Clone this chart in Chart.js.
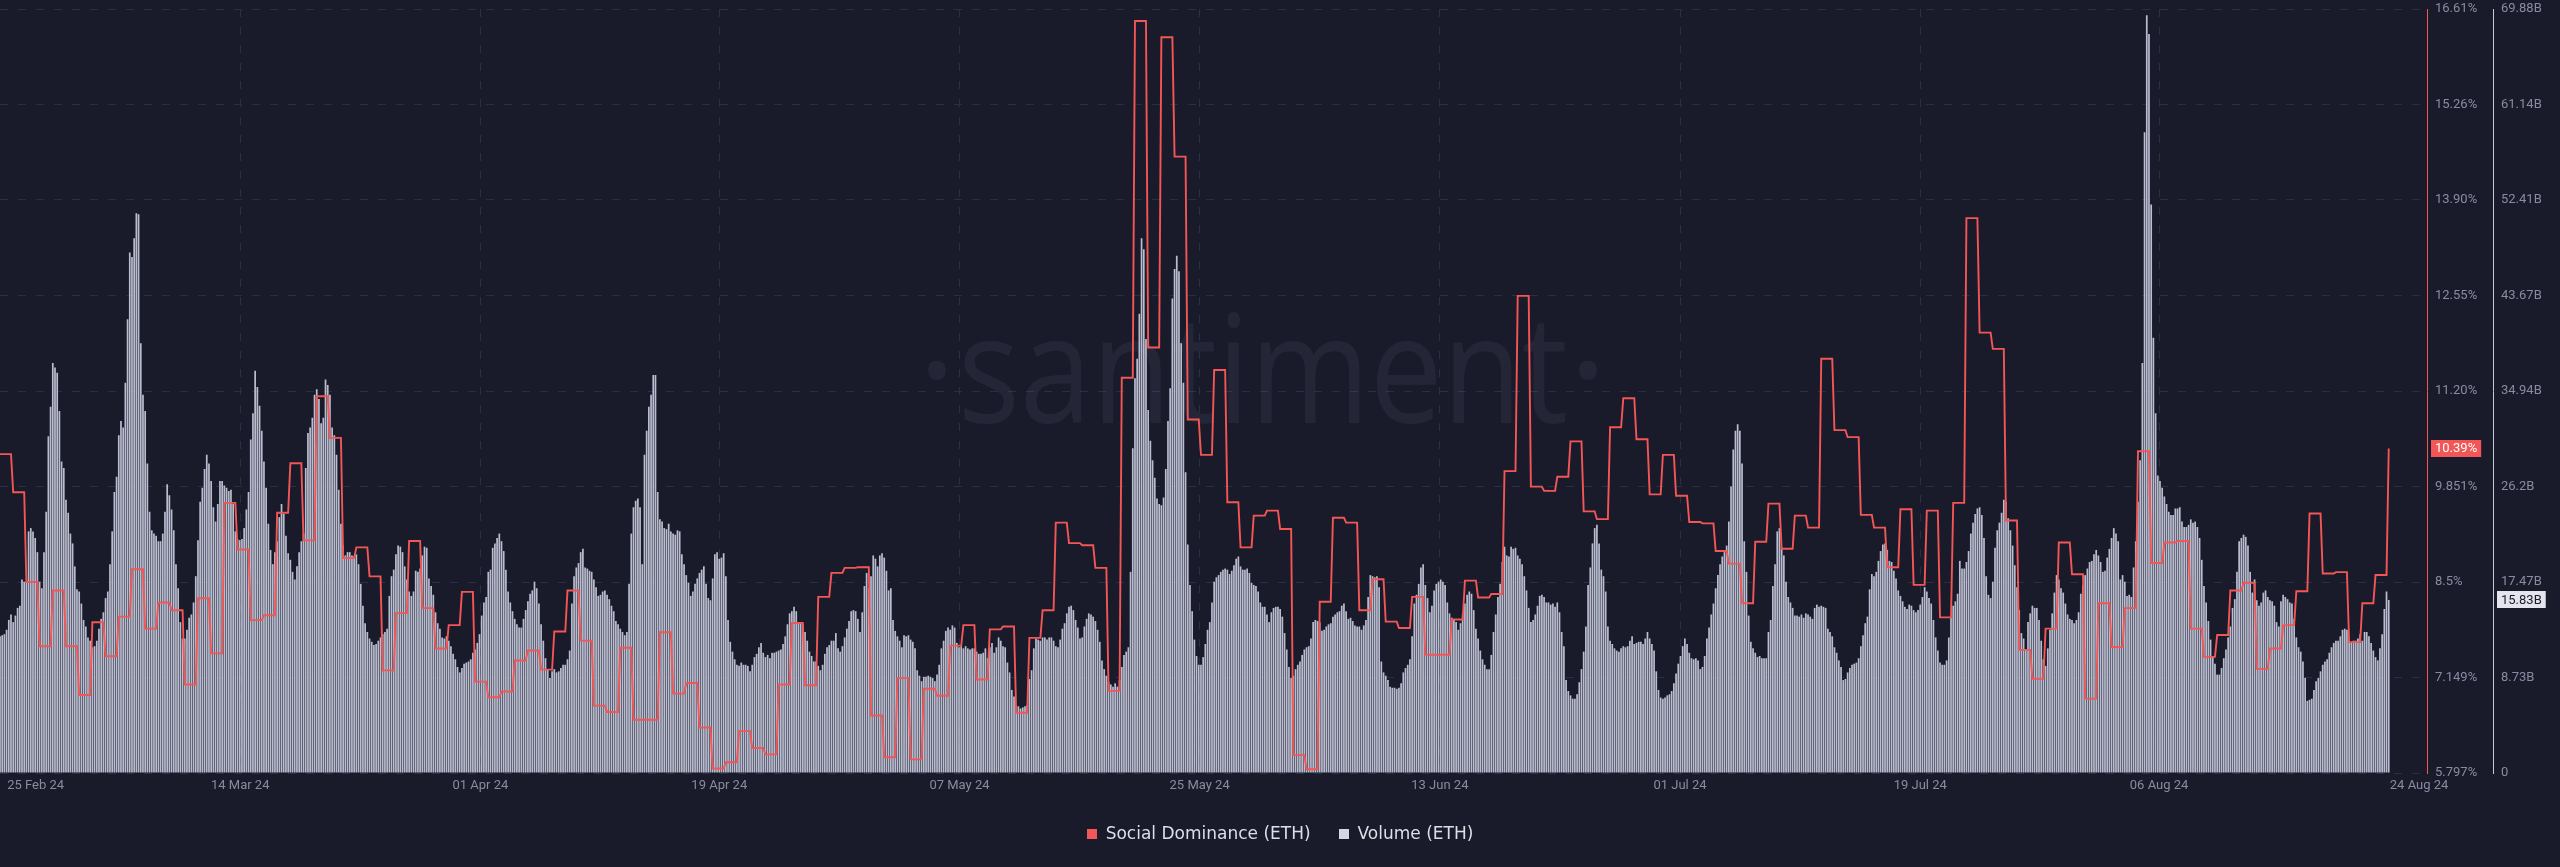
<!DOCTYPE html>
<html>
<head>
<meta charset="utf-8">
<script src="https://cdn.jsdelivr.net/npm/chart.js@4.4.1/dist/chart.umd.min.js"></script>
<style>
  html, body { margin: 0; padding: 0; background: #1a1b2a; }
  canvas { display: block; }
</style>
</head>
<body>
<canvas id="c" width="2560" height="867"></canvas>
<script>
// ---------------- DATA ----------------
const SERIES_NAMES = ['Social Dominance (ETH)', 'Volume (ETH)'];
const START_DATE = '2024-02-25';   // first day of data
const BARS_PER_DAY = 6;            // 4-hour samples

const X_TICK_LABELS = ['25 Feb 24', '14 Mar 24', '01 Apr 24', '19 Apr 24', '07 May 24', '25 May 24',
                       '13 Jun 24', '01 Jul 24', '19 Jul 24', '06 Aug 24', '24 Aug 24'];
const X_TICK_DAYS = [2.7, 18.2, 36.4, 54.5, 72.7, 90.9, 109.1, 127.3, 145.5, 163.6, 183.3];

const SD_TICK_VALUES = [5.797, 7.149, 8.5, 9.852, 11.203, 12.555, 13.907, 15.258, 16.61];
const SD_TICK_LABELS = ['5.797%', '7.149%', '8.5%', '9.851%', '11.20%', '12.55%', '13.90%', '15.26%', '16.61%'];
const VOL_TICK_VALUES = [0, 8.735, 17.47, 26.205, 34.94, 43.675, 52.41, 61.145, 69.88];
const VOL_TICK_LABELS = ['0', '8.73B', '17.47B', '26.2B', '34.94B', '43.67B', '52.41B', '61.14B', '69.88B'];

// Social dominance (%), one value per day
const SOCIAL_DOMINANCE = [
  10.31, 9.77, 8.50, 7.59, 8.38, 7.59, 6.90, 7.93, 7.45, 8.01,
  8.68, 7.84, 8.21, 8.10, 7.05, 8.27, 7.49, 9.62, 8.96, 7.96,
  8.03, 9.48, 10.18, 9.09, 11.13, 10.54, 8.84, 8.99, 8.58, 7.25,
  8.06, 9.08, 8.13, 7.56, 7.89, 8.36, 7.09, 6.87, 6.95, 7.39,
  7.53, 7.26, 7.80, 8.38, 7.67, 6.75, 6.66, 7.57, 6.55, 6.55,
  7.79, 6.92, 7.07, 6.44, 5.86, 5.95, 6.39, 6.15, 6.06, 7.05,
  7.92, 7.04, 8.29, 8.63, 8.70, 8.71, 6.61, 6.02, 7.14, 5.99,
  6.99, 6.89, 7.60, 7.89, 7.12, 7.83, 7.87, 6.65, 7.71, 8.10,
  9.34, 9.05, 9.02, 8.70, 6.96, 11.39, 16.44, 11.82, 16.21, 14.52,
  10.80, 10.30, 11.50, 9.63, 8.99, 9.44, 9.51, 9.25, 6.05, 5.85,
  8.22, 9.41, 9.34, 8.10, 8.54, 7.94, 7.85, 8.29, 7.47, 7.47,
  7.97, 8.52, 8.28, 8.33, 10.07, 12.55, 9.85, 9.79, 9.99, 10.49,
  9.50, 9.39, 10.69, 11.10, 10.52, 9.74, 10.30, 9.72, 9.35, 9.33,
  8.94, 8.76, 8.20, 9.07, 9.61, 8.97, 9.44, 9.27, 11.66, 10.65,
  10.55, 9.45, 9.27, 8.71, 9.53, 8.46, 9.51, 8.00, 9.62, 13.65,
  12.03, 11.80, 9.37, 7.54, 7.13, 7.84, 9.06, 8.61, 6.85, 8.20,
  7.58, 8.13, 10.35, 8.77, 9.06, 9.08, 7.84, 7.44, 7.75, 8.38,
  8.49, 7.27, 7.56, 7.89, 8.37, 9.47, 8.62, 8.64, 7.65, 8.20,
  8.60, 10.39
];

// Volume (billions), one value per 4 hours
const VOLUME = [
  12.5,12.6,12.7,13.1,14.0,14.5,13.8,14.4,15.1,15.3,
  17.7,17.5,17.5,22.1,22.4,22.1,21.5,20.2,17.5,16.9,
  20.2,23.9,30.8,33.5,37.5,37.1,36.6,33.1,28.5,27.9,
  25.0,23.8,21.9,21.0,18.9,16.8,16.6,15.5,14.0,13.4,
  12.4,12.1,11.5,11.6,12.1,13.2,14.1,14.7,16.0,16.6,
  19.1,22.1,25.7,27.1,30.9,32.2,31.6,35.7,41.5,47.6,
  47.2,48.9,51.2,51.1,39.3,34.6,33.1,28.3,23.9,22.2,
  21.9,21.7,21.2,21.2,21.9,23.9,26.4,25.4,24.1,22.2,
  19.1,16.9,13.8,12.3,12.3,13.1,14.2,14.5,15.6,18.0,
  21.3,24.8,26.1,27.8,29.1,28.3,26.7,24.3,23.0,24.6,
  26.7,26.7,26.3,26.1,25.8,25.9,24.6,22.1,21.4,21.3,
  21.4,22.4,24.1,25.7,30.5,32.9,36.8,35.3,33.6,31.3,
  28.5,26.1,22.8,20.4,19.1,20.2,21.2,23.4,24.6,23.7,
  21.7,20.1,19.5,18.4,17.7,18.9,20.2,21.2,21.9,27.9,
  31.1,31.6,32.5,34.6,35.1,34.2,32.0,32.5,36.0,35.5,
  34.6,31.6,30.9,29.1,25.9,22.8,20.8,19.9,20.2,20.2,
  19.9,19.8,20.0,19.1,17.3,15.3,13.7,12.9,12.3,12.0,
  11.7,11.8,12.1,12.4,12.7,12.9,13.2,16.2,18.0,18.6,
  20.0,20.8,20.7,20.2,18.9,17.7,16.6,16.2,16.6,18.5,
  18.4,18.7,19.9,20.7,20.6,17.8,17.1,16.3,14.7,13.7,
  13.2,12.4,12.3,12.5,12.1,11.6,10.9,10.4,9.7,9.2,
  9.6,10.0,10.1,10.2,10.4,11.0,11.3,11.9,12.7,14.4,
  15.6,16.1,18.4,18.6,20.6,21.0,21.5,21.9,21.2,20.3,
  18.6,16.6,15.6,14.8,14.1,13.6,13.3,13.3,14.1,14.9,
  15.7,16.4,16.7,17.5,16.9,15.5,13.6,12.1,10.5,9.5,
  8.7,9.3,9.5,9.2,9.3,9.6,9.9,9.9,10.4,11.2,
  15.5,18.0,18.8,19.2,20.2,20.5,18.8,18.7,18.5,18.4,
  17.7,17.0,16.2,16.3,16.6,16.7,16.3,15.9,15.3,14.8,
  13.9,13.6,13.2,12.9,12.6,12.9,17.3,21.9,24.3,24.9,
  25.1,24.3,19.1,29.1,31.3,33.5,34.6,36.4,36.4,25.7,
  23.2,23.0,22.4,22.3,22.8,22.1,21.9,21.8,22.2,22.1,
  20.0,19.1,18.1,17.4,16.2,16.6,17.3,17.8,18.3,18.6,
  18.9,17.3,16.0,15.8,17.8,20.0,20.2,19.6,19.7,20.1,
  18.0,14.0,12.0,11.1,10.4,9.9,9.8,10.1,9.9,9.9,
  9.8,9.3,9.9,10.6,10.9,11.5,11.9,11.0,10.6,10.8,
  10.5,11.0,11.0,11.1,11.2,11.3,11.8,12.5,13.6,14.6,
  14.8,15.2,14.8,13.8,13.7,13.6,12.9,12.1,11.1,10.7,
  10.2,10.2,9.8,9.4,9.9,10.9,11.5,11.7,12.1,12.1,
  12.8,11.4,11.1,11.6,12.4,13.2,13.9,14.8,14.9,14.8,
  14.1,12.9,14.7,17.1,18.3,16.9,18.0,19.9,19.6,18.9,
  19.9,20.1,19.7,18.5,16.7,16.9,14.0,13.0,12.5,12.1,
  11.5,12.6,12.5,12.6,12.2,12.0,11.4,9.4,8.9,8.4,
  8.8,8.8,8.9,8.8,8.7,8.4,9.0,9.9,11.4,12.1,
  13.0,13.3,13.1,13.5,13.3,11.9,11.5,11.6,11.4,11.6,
  11.4,11.3,11.4,11.4,11.1,10.9,10.9,11.0,11.4,10.5,
  11.5,11.9,11.0,11.5,12.4,12.1,11.6,11.5,10.1,9.2,
  7.6,7.0,6.1,6.1,5.9,6.0,6.1,6.2,8.6,9.4,
  11.4,12.3,12.2,12.1,12.4,12.4,12.2,12.4,12.4,12.1,
  11.6,11.5,12.2,13.2,13.7,14.6,15.2,15.3,14.9,14.0,
  13.3,12.3,12.4,13.4,14.1,14.6,14.5,14.3,13.9,13.1,
  12.0,10.3,9.5,8.9,8.3,8.1,7.9,8.2,7.9,8.5,
  9.7,10.8,11.1,11.5,18.4,29.7,36.1,37.9,42.0,48.9,
  47.9,39.7,33.2,30.4,28.6,27.0,25.1,24.6,24.5,25.2,
  27.8,32.2,35.2,43.4,46.1,47.3,45.9,39.3,35.7,27.5,
  20.9,17.2,14.8,12.2,10.7,9.9,9.9,10.6,11.8,13.1,
  13.8,15.6,17.5,17.9,18.1,18.4,18.6,18.7,18.6,18.2,
  18.5,19.0,19.6,19.8,18.9,18.6,18.6,18.7,18.3,17.4,
  17.2,17.1,16.6,15.6,15.2,15.2,14.5,13.8,14.7,15.1,
  15.2,15.2,15.0,14.3,12.8,11.3,9.7,8.7,8.9,9.5,
  9.9,10.2,10.8,11.3,11.5,11.6,12.3,13.8,14.0,13.9,
  13.8,13.0,13.1,13.4,13.6,13.7,14.3,14.5,14.7,14.8,
  15.3,15.5,14.8,14.1,14.2,13.9,13.5,13.4,13.4,13.1,
  13.5,14.0,16.1,18.1,18.0,17.9,18.0,17.0,10.2,9.2,
  8.9,8.5,7.9,7.8,7.8,7.7,7.8,8.2,9.2,9.6,
  9.9,10.4,12.5,15.5,16.3,17.3,18.8,19.1,17.2,16.0,
  14.7,15.3,16.7,17.3,17.5,17.7,17.5,17.2,15.6,14.6,
  14.2,14.0,13.8,13.1,13.7,14.5,15.5,16.3,16.6,16.4,
  14.9,13.2,12.3,11.2,10.4,9.9,9.5,9.5,10.8,12.9,
  14.5,16.1,17.3,19.3,20.7,19.9,19.8,20.7,20.5,20.6,
  19.9,19.6,19.1,18.0,16.7,15.1,13.8,14.0,14.5,15.3,
  16.2,16.3,16.1,15.6,15.6,15.4,15.5,15.2,15.6,14.7,
  12.9,11.6,8.5,7.5,7.1,6.8,6.8,7.2,8.3,9.5,
  11.1,13.4,17.2,18.8,21.0,22.4,22.7,21.0,18.6,18.0,
  16.6,13.4,12.1,11.8,11.4,11.2,11.1,11.4,11.6,11.5,
  11.6,12.1,12.5,11.8,11.9,12.0,12.0,11.8,12.3,12.9,
  12.3,11.8,11.2,9.3,7.6,6.9,6.8,6.9,7.1,7.2,
  7.5,8.2,9.1,10.0,10.7,11.6,12.3,11.8,11.0,10.5,
  10.4,10.5,10.3,9.5,9.7,10.7,12.3,13.3,14.5,15.5,
  16.9,18.1,19.1,19.8,20.2,20.8,23.0,26.2,29.6,31.3,
  31.9,31.3,28.3,21.2,18.4,14.4,12.0,11.4,11.0,10.6,
  10.7,10.5,10.5,10.5,12.9,14.0,17.1,19.1,22.1,22.4,
  20.6,19.9,17.5,16.1,15.6,15.1,14.4,14.4,14.3,14.5,
  14.2,14.6,14.5,14.3,14.1,15.1,15.4,15.2,15.3,15.2,
  15.1,13.2,12.9,12.5,11.5,11.0,10.3,9.7,8.5,8.6,
  9.2,9.6,9.9,10.0,10.1,10.5,11.6,12.6,13.7,14.3,
  16.8,18.2,18.0,18.4,19.4,20.3,20.9,21.0,20.4,19.4,
  19.3,18.5,17.8,16.7,16.2,15.7,15.2,15.0,15.4,15.3,
  14.9,14.7,14.9,15.4,16.1,17.0,16.6,16.0,15.5,14.0,
  12.4,11.2,10.1,9.9,9.9,10.3,12.4,14.2,15.3,15.7,
  16.4,19.4,18.7,18.7,19.3,20.3,21.9,22.9,23.7,24.2,
  24.3,23.6,21.5,18.0,16.3,16.0,17.5,20.6,22.2,22.9,
  23.8,25.0,24.8,23.3,22.2,20.8,19.0,17.0,14.9,12.8,
  12.3,11.3,13.8,14.6,15.3,15.1,15.1,14.0,12.1,10.4,
  9.8,11.4,13.1,14.6,16.5,18.1,17.7,16.9,16.5,15.5,
  14.5,14.1,14.0,13.7,14.0,14.7,16.4,17.2,18.1,18.7,
  19.3,19.4,20.0,20.4,19.9,19.3,18.4,18.5,19.7,20.5,
  21.5,22.4,21.9,21.2,17.7,18.1,17.5,16.2,16.3,16.1,
  18.8,21.2,24.8,28.6,37.5,58.6,69.3,67.6,52.0,39.8,
  32.9,27.2,26.7,26.1,25.3,24.6,23.9,23.6,23.6,24.2,
  24.2,24.3,23.0,22.5,22.5,22.7,23.2,22.9,23.0,22.5,
  21.5,19.5,17.1,15.6,13.9,12.2,10.7,10.0,9.0,9.0,
  9.6,10.5,11.3,12.4,13.4,15.1,15.9,18.4,21.2,21.5,
  21.8,21.6,20.8,18.4,16.5,17.7,15.8,15.3,15.6,16.5,
  16.7,16.1,15.8,15.7,15.3,13.8,13.4,15.7,16.3,16.1,
  15.9,15.6,15.5,14.1,12.4,11.5,11.1,10.2,8.7,6.6,
  6.7,6.8,7.6,8.4,8.7,9.3,9.9,10.2,10.4,11.0,
  11.5,11.9,12.1,12.1,12.5,13.1,13.2,13.1,12.2,12.0,
  12.1,12.1,12.3,12.7,12.1,12.9,12.9,12.5,11.9,11.2,
  10.6,10.3,11.4,12.7,15.0,16.6,15.83
];

// ---------------- STYLE ----------------
const BG = '#1a1b2a';
const RED = '#f25656';
const BAR = '#b9bdcf';
const GRID = '#2b2f45';
const TICK = '#878ca2';
const FONT = 'Roboto, "Liberation Sans", sans-serif';

const volumePoints = VOLUME.map((v, i) => ({ x: i / BARS_PER_DAY, y: v }));
const sdPoints = VOLUME.map((_, i) => ({ x: i / BARS_PER_DAY, y: SOCIAL_DOMINANCE[Math.floor(i / BARS_PER_DAY)] }));

const watermark = {
  id: 'watermark',
  beforeDatasetsDraw(chart) {
    const ctx = chart.ctx;
    ctx.save();
    ctx.fillStyle = 'rgba(130,140,180,0.10)';
    ctx.font = '400 150px "Open Sans", sans-serif';
    ctx.textBaseline = 'alphabetic';
    const text = 'santiment';
    const w = ctx.measureText(text).width;
    ctx.save();
    ctx.translate(958, 423);
    ctx.scale(610 / w, 1);
    ctx.fillText(text, 0, 0);
    ctx.restore();
    ctx.textAlign = 'center';
    ctx.fillText('·', 937, 423);
    ctx.fillText('·', 1588, 423);
    ctx.restore();
  }
};

const badges = {
  id: 'badges',
  afterDraw(chart) {
    const ctx = chart.ctx;
    const ySD = chart.scales.ySD, yV = chart.scales.yVol;
    const lastSD = SOCIAL_DOMINANCE[SOCIAL_DOMINANCE.length - 1];
    const lastV = VOLUME[VOLUME.length - 1];
    ctx.save();
    ctx.font = '13px ' + FONT;
    ctx.textBaseline = 'middle';
    ctx.textAlign = 'left';
    let y = ySD.getPixelForValue(lastSD);
    let t = lastSD.toFixed(2) + '%';
    let w = ctx.measureText(t).width;
    ctx.fillStyle = RED;
    ctx.fillRect(ySD.left + 4, Math.round(y - 8.5), w + 8, 17);
    ctx.fillStyle = '#ffffff';
    ctx.fillText(t, ySD.left + 8, y + 0.5);
    y = yV.getPixelForValue(lastV);
    t = lastV.toFixed(2) + 'B';
    w = ctx.measureText(t).width;
    ctx.fillStyle = '#e3e4ec';
    ctx.fillRect(yV.left + 4, Math.round(y - 8.5), w + 8, 17);
    ctx.fillStyle = '#1a1b2a';
    ctx.fillText(t, yV.left + 8, y + 0.5);
    ctx.restore();
  }
};

const customLegend = {
  id: 'customLegend',
  afterDraw(chart) {
    const ctx = chart.ctx;
    ctx.save();
    ctx.font = '17px "DejaVu Sans", sans-serif';
    ctx.textBaseline = 'middle';
    ctx.textAlign = 'left';
    const colors = [RED, '#d4d6e1'];
    const box = 10, gap = 9, itemGap = 28;
    const widths = SERIES_NAMES.map(s => ctx.measureText(s).width);
    const total = widths.reduce((a, b) => a + b, 0) + SERIES_NAMES.length * (box + gap) + itemGap * (SERIES_NAMES.length - 1);
    let x = chart.width / 2 - total / 2;
    const y = 834;
    SERIES_NAMES.forEach((s, i) => {
      ctx.fillStyle = colors[i];
      ctx.fillRect(Math.round(x), y - 5, box, box);
      x += box + gap;
      ctx.fillStyle = '#dcdee8';
      ctx.fillText(s, x, y + 1);
      x += widths[i] + itemGap;
    });
    ctx.restore();
  }
};

const noAxisOverflow = (s) => { s.paddingTop = 0; s.paddingBottom = 0; };

new Chart(document.getElementById('c'), {
  type: 'bar',
  data: {
    datasets: [
      {
        type: 'line', label: SERIES_NAMES[0], data: sdPoints,
        xAxisID: 'x', yAxisID: 'ySD',
        borderColor: RED, borderWidth: 1.9, pointRadius: 0, tension: 0, fill: false, order: 0
      },
      {
        type: 'bar', label: SERIES_NAMES[1], data: volumePoints,
        xAxisID: 'x', yAxisID: 'yVol',
        backgroundColor: BAR, borderWidth: 0, categoryPercentage: 1, barPercentage: 0.78, order: 1
      }
    ]
  },
  options: {
    responsive: false,
    animation: false,
    devicePixelRatio: 1,
    events: [],
    layout: { padding: { top: 9, bottom: 69, left: 0, right: 0 } },
    plugins: { legend: { display: false }, tooltip: { enabled: false } },
    scales: {
      x: {
        type: 'linear', position: 'bottom', min: 0, max: 183.9, offset: false,
        grid: {
          offset: false, drawTicks: false,
          color: (c) => (c.index === 0 || c.index === X_TICK_LABELS.length - 1) ? 'rgba(0,0,0,0)' : GRID
        },
        border: { display: false, dash: [8, 10] },
        afterBuildTicks: (s) => { s.ticks = X_TICK_DAYS.map(v => ({ value: v })); },
        afterFit: (s) => { s.height = 25; s.paddingLeft = 0; s.paddingRight = 0; },
        ticks: {
          autoSkip: false, maxRotation: 0, minRotation: 0, padding: 5,
          color: TICK, font: { family: FONT, size: 13 },
          callback: (v, i) => X_TICK_LABELS[i]
        }
      },
      ySD: {
        type: 'linear', position: 'right', weight: 0, min: 5.797, max: 16.61,
        grid: { color: GRID, drawTicks: false },
        border: { display: true, color: RED, width: 1, dash: [8, 10] },
        afterBuildTicks: (s) => { s.ticks = SD_TICK_VALUES.map(v => ({ value: v })); },
        afterFit: (s) => { s.width = 66; noAxisOverflow(s); },
        ticks: {
          padding: 8, color: TICK, font: { family: FONT, size: 13 },
          callback: (v, i) => SD_TICK_LABELS[i]
        }
      },
      yVol: {
        type: 'linear', position: 'right', weight: 1, min: 0, max: 69.88,
        grid: { drawOnChartArea: false, drawTicks: false },
        border: { display: true, color: '#c6c9d6', width: 1 },
        afterBuildTicks: (s) => { s.ticks = VOL_TICK_VALUES.map(v => ({ value: v })); },
        afterFit: (s) => { s.width = 67; noAxisOverflow(s); },
        ticks: {
          padding: 8, color: TICK, font: { family: FONT, size: 13 },
          callback: (v, i) => VOL_TICK_LABELS[i]
        }
      }
    }
  },
  plugins: [watermark, badges, customLegend]
});
</script>
</body>
</html>
